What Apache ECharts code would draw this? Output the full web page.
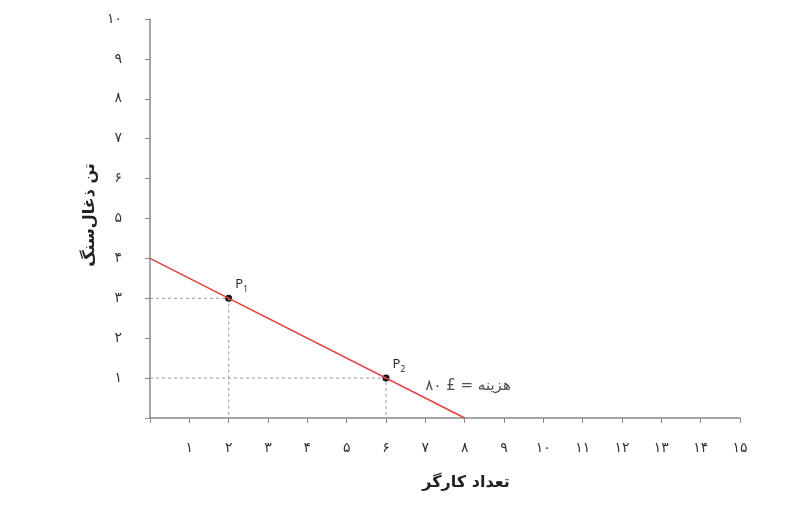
<!DOCTYPE html>
<html><head><meta charset="utf-8">
<script src="https://cdn.jsdelivr.net/npm/echarts@6/dist/echarts.min.js"></script>
<style>html,body{margin:0;padding:0;background:#fff}#c{width:810px;height:508px}</style>
</head><body><div id="c"></div>
<script>
const persianDigits = ['', '۱', '۲', '۳', '۴', '۵', '۶', '۷', '۸', '۹', '۱۰', '۱۱', '۱۲', '۱۳', '۱۴', '۱۵'];
const xAxisTitle = 'تعداد کارگر';
const yAxisTitle = 'تن ذغال‌سنگ';
const costLine = [[0, 4], [8, 0]];
const points = [{name: '1', value: [2, 3]}, {name: '2', value: [6, 1]}];
const guideP1 = [[0, 3], [2, 3], [2, 0]];
const guideP2 = [[0, 1], [6, 1], [6, 0]];
const costLabel = 'هزینه = £ ۸۰';
const costLabelAt = [7.0, 0.8];

const chart = echarts.init(document.getElementById('c'));
const axisColor = '#8a8a8a';
const fa = 'DejaVu Sans, sans-serif';
chart.setOption({
  animation: false,
  grid: {left: 150, right: 70, top: 19, bottom: 90},
  xAxis: {
    type: 'value', min: 0, max: 15, interval: 1,
    axisLine: {lineStyle: {color: axisColor, width: 1.5}},
    axisTick: {show: true, length: 5, lineStyle: {color: axisColor}},
    splitLine: {show: false},
    axisLabel: {margin: 23, color: '#333', fontSize: 14, fontFamily: fa,
      formatter: v => persianDigits[v] || ''}
  },
  yAxis: {
    type: 'value', min: 0, max: 10, interval: 1,
    axisLine: {show: true, lineStyle: {color: axisColor, width: 1.5}},
    axisTick: {show: true, length: 5, lineStyle: {color: axisColor}},
    splitLine: {show: false},
    axisLabel: {margin: 28, color: '#333', fontSize: 14, fontFamily: fa,
      formatter: v => persianDigits[v] || ''}
  },
  graphic: [
    {type: 'text', x: 466, y: 483, style: {text: xAxisTitle, font: 'bold 16px DejaVu Sans', fill: '#222', align: 'center', verticalAlign: 'middle'}},
    {type: 'text', x: 90, y: 215, rotation: Math.PI / 2, style: {text: yAxisTitle, font: 'bold 16px DejaVu Sans', fill: '#222', align: 'center', verticalAlign: 'middle'}}
  ],
  series: [
    {type: 'line', data: guideP1, symbol: 'none', silent: true,
      lineStyle: {color: '#999', width: 1, type: [3, 3]}},
    {type: 'line', data: guideP2, symbol: 'none', silent: true,
      lineStyle: {color: '#999', width: 1, type: [3, 3]}},
    {type: 'line', data: costLine, symbol: 'none',
      lineStyle: {color: '#e2423c', width: 1.5}},
    {type: 'scatter', data: points, symbolSize: 7, itemStyle: {color: '#111', opacity: 1},
      label: {show: true, position: 'right', offset: [-2, -14],
        formatter: p => '{p|P}{s|' + p.name + '}',
        rich: {p: {fontSize: 13, color: '#222', fontFamily: 'Open Sans'},
               s: {fontSize: 9, color: '#222', fontFamily: 'Open Sans', padding: [10, 0, 0, 0]}}}},
    {type: 'scatter', data: [costLabelAt], symbolSize: 0,
      label: {show: true, position: 'right', distance: 0, formatter: costLabel,
        color: '#222', fontSize: 15, fontFamily: fa}}
  ]
});
</script></body></html>
